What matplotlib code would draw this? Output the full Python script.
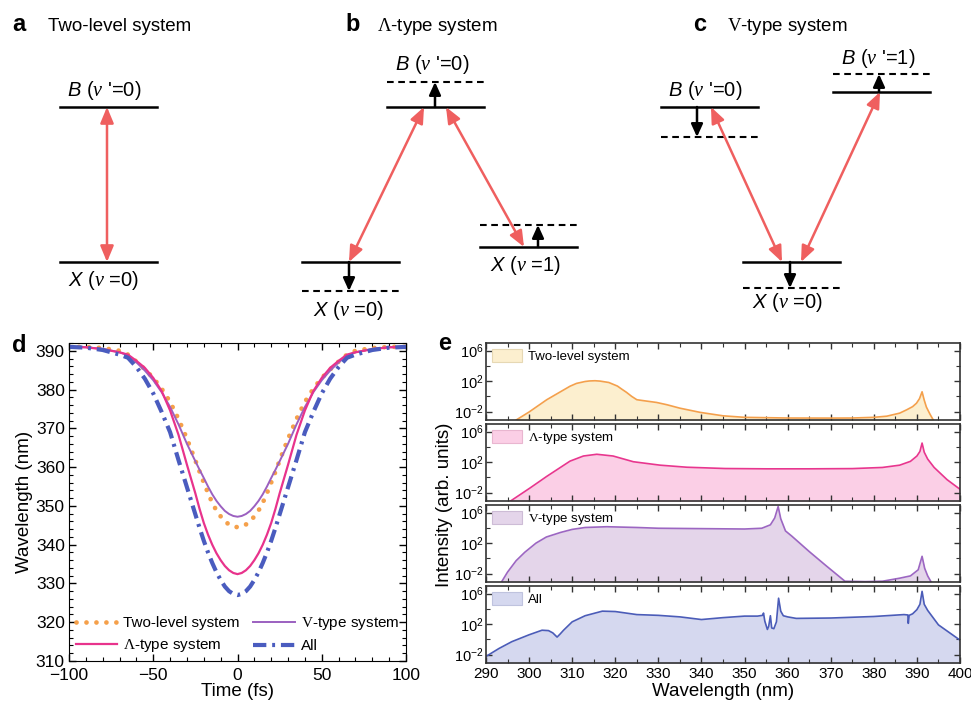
import matplotlib
matplotlib.use("Agg")
import matplotlib.pyplot as plt
from matplotlib.patches import Patch
from matplotlib.ticker import MultipleLocator, FixedLocator, NullFormatter

plt.rcParams['font.family'] = ['Liberation Sans', 'DejaVu Sans']
plt.rcParams['mathtext.fontset'] = 'custom'
plt.rcParams['mathtext.rm'] = 'Liberation Sans'
plt.rcParams['mathtext.it'] = 'Liberation Sans:italic'
plt.rcParams['mathtext.bf'] = 'Liberation Sans:bold'
plt.rcParams['mathtext.sf'] = 'Liberation Serif'
plt.rcParams['mathtext.cal'] = 'Liberation Serif:italic'

# ---- panel d: central wavelength vs time ----
t_fs = [-100, -90, -80, -70, -65, -60, -55, -50, -45, -40, -35, -30, -25, -22.5, -20, -17.5, -15, -12.5, -10, -7.5, -5, -2.5, 0,
        2.5, 5, 7.5, 10, 12.5, 15, 17.5, 20, 22.5, 25, 30, 35, 40, 45, 50, 55, 60, 65, 70, 80, 90, 100]
wl_two = [391.0, 391.0, 390.7, 390.0, 389.0, 387.2, 385.2, 383.0, 380.2, 376.8, 372.4, 367.3, 361.7, 358.8, 356.0, 353.3, 350.8, 348.8, 347.3, 346.0, 345.2, 344.7, 344.5,
          344.7, 345.2, 346.0, 347.3, 348.8, 350.8, 353.3, 356.0, 358.8, 361.7, 367.3, 372.4, 376.8, 380.2, 383.0, 385.2, 387.2, 389.0, 390.0, 390.7, 391.0, 391.0]
wl_v = [391.0, 390.9, 390.5, 389.6, 388.8, 387.0, 384.9, 382.4, 379.3, 375.5, 371.0, 366.0, 361.5, 359.3, 357.2, 355.0, 353.0, 351.3, 349.9, 348.7, 347.9, 347.4, 347.2,
        347.4, 347.9, 348.7, 349.9, 351.3, 353.0, 355.0, 357.2, 359.3, 361.5, 366.0, 371.0, 375.5, 379.3, 382.4, 384.9, 387.0, 388.8, 389.6, 390.5, 390.9, 391.0]
wl_lam = [391.0, 390.9, 390.4, 389.6, 389.0, 387.4, 385.6, 383.0, 379.6, 374.6, 368.3, 360.6, 353.2, 349.2, 345.6, 342.6, 340.0, 337.8, 336.0, 334.5, 333.4, 332.7, 332.4,
          332.7, 333.4, 334.5, 336.0, 337.8, 340.0, 342.6, 345.6, 349.2, 353.2, 360.6, 368.3, 374.6, 379.6, 383.0, 385.6, 387.4, 389.0, 389.6, 390.4, 390.9, 391.0]
wl_all = [391.0, 390.8, 390.2, 389.0, 388.2, 385.8, 382.8, 379.0, 374.2, 369.0, 361.8, 354.8, 347.8, 344.3, 341.0, 338.0, 335.3, 332.9, 330.9, 329.2, 328.0, 327.3, 327.0,
          327.3, 328.0, 329.2, 330.9, 332.9, 335.3, 338.0, 341.0, 344.3, 347.8, 354.8, 361.8, 369.0, 374.2, 379.0, 382.8, 385.8, 388.2, 389.0, 390.2, 390.8, 391.0]

# ---- panel e: spectra, log10 of intensity ----
wl_e_two = [296, 297, 300, 304.1, 309.5, 311, 313, 314, 315.3, 316.5, 318.5, 320.5, 321.5, 322.6, 323.8, 325, 327, 329.6,
            332, 335, 339.7, 345, 350, 360, 370, 375, 380, 383, 386, 387.6, 389, 389.9, 390.6, 391.2, 391.7, 392.2,
            393, 393.8, 395]
lg_e_two = [-4.0, -3.1, -2.05, -0.44, 1.33, 1.7, 1.95, 2.02, 2.05, 2.0, 1.82, 1.35, 0.95, 0.53, 0.0, -0.44, -0.6, -0.8,
            -1.1, -1.55, -2.1, -2.55, -2.75, -2.84, -2.85, -2.84, -2.75, -2.6, -2.2, -1.77, -1.35, -0.9, -0.3, 0.6, -0.5, -1.4,
            -2.3, -3.1, -4.0]

wl_e_lam = [295, 295.7, 300.2, 304.1, 309.5, 312.6, 315.7, 319.5, 324.2, 330.4, 336.6, 345.5, 355, 365, 375, 382, 386,
            388.5, 390, 390.7, 391.2, 391.7, 392.5, 394, 397, 400]
lg_e_lam = [-3.5, -3.1, -1.4, 0.13, 2.13, 2.8, 3.03, 2.8, 2.05, 1.6, 1.33, 1.16, 1.12, 1.12, 1.15, 1.3, 1.6,
            2.1, 2.8, 3.4, 4.5, 3.3, 2.4, 1.3, -0.3, -1.56]

wl_e_v = [293, 293.6, 295, 297, 299, 301.6, 304, 307.3, 310, 313, 318, 325, 330, 340, 350, 354, 356, 357, 357.8,
          358.4, 359.5, 361, 365, 369, 373.3, 378, 382, 386, 388.5, 390.3, 391.2, 391.8, 392.5, 393.3, 394]
lg_e_v = [-3.6, -3.1, -1.8, -0.3, 0.8, 2.0, 2.8, 3.4, 3.8, 4.05, 4.15, 4.05, 3.95, 3.9, 3.85, 3.95, 4.4, 5.3, 6.8,
          5.2, 3.6, 2.9, 0.9, -1.0, -3.0, -3.05, -3.0, -2.6, -2.3, -1.5, 0.27, -1.3, -2.3, -3.1, -3.6]

wl_e_all = [290, 293, 296, 300, 303, 304.5, 305.5, 306.5, 307.2, 308, 310, 313, 317, 320, 325, 330, 335, 340, 345,
            350, 353, 354.2, 354.4, 354.7, 355.3, 355.6, 356.0, 356.3, 356.8, 357.4, 357.9, 358.4, 359, 360, 362,
            370, 380, 387, 387.9, 388.0, 388.2, 389, 390, 390.7, 391.2, 391.7, 392.5, 395, 400]
lg_e_all = [-2.24, -1.2, -0.3, 0.6, 1.2, 1.15, 0.85, 0.3, 0.7, 1.2, 2.3, 3.1, 3.7, 3.65, 3.25, 3.15, 2.95, 2.6, 2.85,
            3.05, 3.05, 3.15, 3.45, 2.4, 1.3, 1.7, 3.1, 1.5, 1.4, 2.3, 5.4, 3.7, 3.1, 2.95, 2.75,
            2.8, 3.0, 3.25, 3.2, 2.1, 3.15, 3.35, 3.9, 4.6, 6.3, 4.6, 3.8, 1.9, -0.1]

W, H = 971, 701
fig = plt.figure(figsize=(W / 100, H / 100), dpi=100)

# ---- energy level diagrams (a, b, c), drawn in pixel units ----
ax0 = fig.add_axes([0, 0, 1, 1])
ax0.set_xlim(0, W)
ax0.set_ylim(H, 0)
ax0.axis('off')

red = '#ef5f5f'
# (x0, x1, y, dashed)
levels = [(60, 157, 107, False), (60, 157, 262, False),
          (387, 484, 107, False), (387, 484, 82, True), (302, 399, 262, False), (302, 399, 291, True),
          (480, 577, 247, False), (480, 577, 225, True),
          (661, 758, 107, False), (661, 758, 137, True), (833, 930, 92, False), (833, 930, 74, True),
          (743, 840, 262, False), (743, 840, 288, True)]
for x0, x1, y, dashed in levels:
    if dashed:
        ax0.plot([x0, x1], [y, y], color='black', lw=1.5, linestyle=(0, (3.2, 2.2)))
    else:
        ax0.plot([x0, x1], [y, y], color='black', lw=1.8)

# red double-headed transitions
transitions = [((107, 107), (107, 262)),
               ((424, 107), (349, 262)), ((446, 107), (524, 247)),
               ((711, 107), (782, 262)), ((880, 92), (801, 262))]
for (xa, ya), (xb, yb) in transitions:
    ax0.annotate('', xy=(xb, yb), xytext=(xa, ya),
                 arrowprops=dict(arrowstyle='<|-|>,head_length=0.6,head_width=0.25',
                                 color=red, lw=1.8, mutation_scale=16, shrinkA=0, shrinkB=0))

# black shifts
shifts = [((435, 107), (435, 82)), ((349, 262), (349, 291)), ((538, 247), (538, 225)),
          ((697, 107), (697, 137)), ((879, 92), (879, 74)), ((790, 262), (790, 288))]
for (xa, ya), (xb, yb) in shifts:
    ax0.annotate('', xy=(xb, yb), xytext=(xa, ya),
                 arrowprops=dict(arrowstyle='-|>,head_length=0.55,head_width=0.25',
                                 color='black', lw=1.8, mutation_scale=14, shrinkA=0, shrinkB=0))

lab_fs = 14.5
level_labels = [(104, 96, r"$B$ ($\mathcal{\nu}$ '=0)"), (103, 286, r"$X$ ($\mathcal{\nu}$ =0)"),
                (432, 70, r"$B$ ($\mathcal{\nu}$ '=0)"), (348, 316, r"$X$ ($\mathcal{\nu}$ =0)"),
                (525, 271, r"$X$ ($\mathcal{\nu}$ =1)"),
                (705, 96, r"$B$ ($\mathcal{\nu}$ '=0)"), (878, 64, r"$B$ ($\mathcal{\nu}$ '=1)"),
                (787, 308, r"$X$ ($\mathcal{\nu}$ =0)")]
for x, y, s in level_labels:
    ax0.text(x, y, s, ha='center', va='baseline', fontsize=lab_fs)

titles = [(12, 48, 'a', 'Two-level system'),
          (345, 377, 'b', r'$\mathsf{\Lambda}$-type system'),
          (693, 727, 'c', r'$\mathsf{V}$-type system')]
for xl, xt, letter, title in titles:
    ax0.text(xl, 31, letter, fontsize=17, fontweight='bold', va='baseline')
    ax0.text(xt, 31, title, fontsize=13.5, va='baseline')
ax0.text(12, 352, 'd', fontsize=17, fontweight='bold', va='baseline')
ax0.text(438, 350, 'e', fontsize=17, fontweight='bold', va='baseline')

# ---- panel d ----
axd = fig.add_axes([69 / W, 1 - 661 / H, (406 - 69) / W, (661 - 343) / H])
l_two, = axd.plot(t_fs, wl_two, color='#f5a04a', lw=3.4, linestyle=(0, (0.01, 2.1)),
                  dash_capstyle='round', label='Two-level system')
l_v, = axd.plot(t_fs, wl_v, color='#9b60c0', lw=1.4, label=r'$\mathsf{V}$-type system')
l_lam, = axd.plot(t_fs, wl_lam, color='#e8338c', lw=1.6, label=r'$\mathsf{\Lambda}$-type system')
l_all, = axd.plot(t_fs, wl_all, color='#4a5cbf', lw=3.0, linestyle=(0, (3.2, 1.4, 0.7, 1.4)),
                  label='All')
axd.set_xlim(-100, 100)
axd.set_ylim(310, 392)
axd.xaxis.set_major_locator(MultipleLocator(50))
axd.xaxis.set_minor_locator(MultipleLocator(10))
axd.yaxis.set_major_locator(MultipleLocator(10))
axd.yaxis.set_minor_locator(MultipleLocator(2))
axd.tick_params(which='both', direction='in', top=True, right=True, labelsize=12.5, pad=3)
axd.tick_params(axis='x', pad=5)
axd.tick_params(which='major', length=5, width=1)
axd.tick_params(which='minor', length=3, width=0.8)
axd.set_xlabel('Time (fs)', fontsize=13.5, labelpad=0)
axd.set_ylabel('Wavelength (nm)', fontsize=13.5, labelpad=2)
axd.legend(handles=[l_two, l_lam, l_v, l_all], ncol=2, loc='lower center', frameon=False,
           fontsize=11, handlelength=2.7, columnspacing=0.9, handletextpad=0.4,
           labelspacing=0.45, borderaxespad=0.05, bbox_to_anchor=(0.5, 0))

# ---- panel e ----
spectra = [(wl_e_two, lg_e_two, '#f4a04c', '#fcefcf', '#e6d8b4', 'Two-level system'),
           (wl_e_lam, lg_e_lam, '#e8368e', '#fbcfe6', '#e9b6d0', r'$\mathsf{\Lambda}$-type system'),
           (wl_e_v, lg_e_v, '#9c66c2', '#e4d5ea', '#cdbcd6', r'$\mathsf{V}$-type system'),
           (wl_e_all, lg_e_all, '#4b5cb8', '#d5d8ef', '#bfc3de', 'All')]
ylo, yhi = 10 ** -3.1, 10 ** 7.0
top, hgt, gap = 343, 77, 4
for i, (wl, lg, lc, fc, ec, name) in enumerate(spectra):
    y_top = top + i * (hgt + gap)
    ax = fig.add_axes([486 / W, 1 - (y_top + hgt) / H, (960 - 486) / W, hgt / H])
    vals = [10 ** v for v in lg]
    ax.fill_between(wl, 1e-6, vals, color=fc, lw=0)
    ax.plot(wl, vals, color=lc, lw=1.2)
    ax.set_yscale('log')
    ax.set_ylim(ylo, yhi)
    ax.set_xlim(290, 400)
    ax.set_yticks([1e-2, 1e2, 1e6])
    ax.set_yticklabels([r'$10^{-2}$', r'$10^{2}$', r'$10^{6}$'])
    ax.yaxis.set_minor_locator(FixedLocator([1e0, 1e4]))
    ax.yaxis.set_minor_formatter(NullFormatter())
    ax.xaxis.set_major_locator(MultipleLocator(10))
    ax.xaxis.set_minor_locator(MultipleLocator(5))
    ax.tick_params(which='both', direction='in', top=True, right=True, pad=3, color='#333333')
    ax.tick_params(axis='x', labelsize=11)
    ax.tick_params(axis='y', labelsize=10.5, pad=2)
    ax.tick_params(which='major', length=4, width=1)
    ax.tick_params(which='minor', length=3, width=0.8)
    for sp in ax.spines.values():
        sp.set_color('#333333')
        sp.set_linewidth(1.2)
    if i < 3:
        ax.tick_params(labelbottom=False)
    else:
        ax.set_xlabel('Wavelength (nm)', fontsize=13.5, labelpad=1)
    ax.legend(handles=[Patch(facecolor=fc, edgecolor=ec, lw=0.8, label=name)], loc='upper left',
              frameon=False, fontsize=9.5, handlelength=2.3, handleheight=1.1,
              handletextpad=0.4, borderaxespad=0.25, borderpad=0.2)

fig.text(444 / W, 1 - 505 / H, 'Intensity (arb. units)', rotation=90, ha='center', va='center',
         fontsize=13.5)

fig.savefig('out.png', dpi=100)
